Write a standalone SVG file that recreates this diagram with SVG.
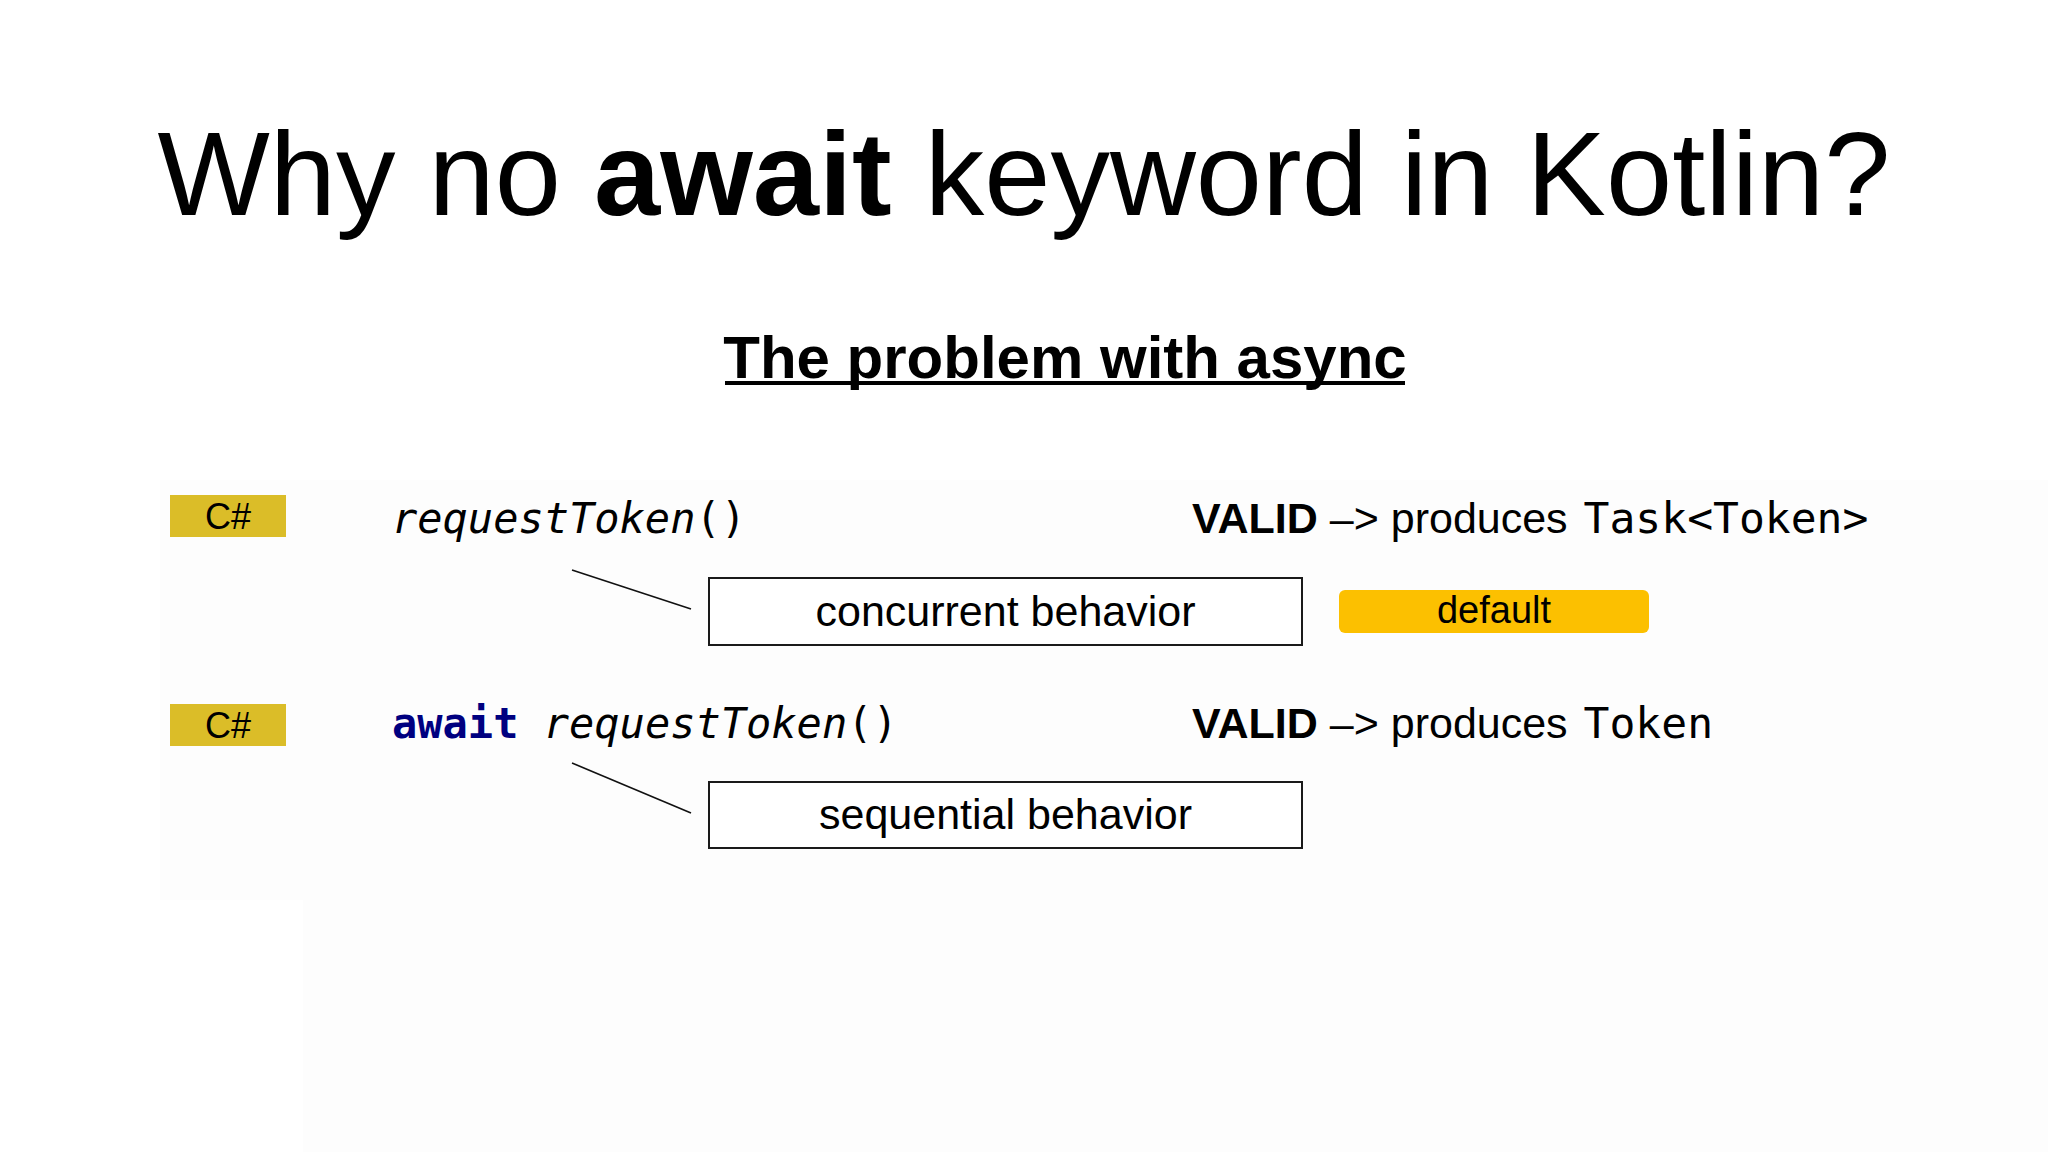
<svg xmlns="http://www.w3.org/2000/svg" width="2048" height="1152" viewBox="0 0 2048 1152">
  <style>
    .sans { font-family: "Liberation Sans", Arial, Helvetica, sans-serif; fill: #000; }
    .mono { font-family: "DejaVu Sans Mono", "Liberation Mono", monospace; fill: #000; }
    .bold { font-weight: bold; }
    .cs { fill: #dbbd28; }
    .box { fill: #ffffff; stroke: #1a1a1a; stroke-width: 2; }
    .conn { stroke: #111; stroke-width: 1.6; fill: none; }
  </style>
  <rect x="0" y="0" width="2048" height="1152" fill="#ffffff"/>
  <rect x="160" y="480" width="1888" height="420" fill="#fdfdfd"/>
  <rect x="303" y="480" width="1745" height="672" fill="#fdfdfd"/>

  <g id="title">
    <text class="sans" x="1024" y="215" font-size="119" text-anchor="middle">Why no <tspan class="bold">await</tspan> keyword in Kotlin?</text>
  </g>

  <g id="subtitle">
    <text class="sans bold" x="1065" y="378" font-size="60" text-anchor="middle">The problem with async</text>
    <rect x="725" y="381" width="680" height="4" fill="#000"/>
  </g>

  <g id="badge-cs-1">
    <rect class="cs" x="170" y="495" width="116" height="42"/>
    <text class="sans" x="228" y="529" font-size="36" text-anchor="middle">C#</text>
  </g>

  <g id="code-1">
    <text class="mono" x="392" y="533" font-size="42"><tspan font-style="italic">requestToken</tspan>()</text>
  </g>

  <g id="valid-1">
    <text class="sans" x="1192" y="533" font-size="43"><tspan class="bold">VALID</tspan> –&gt; produces <tspan class="mono" dx="4">Task&lt;Token&gt;</tspan></text>
  </g>

  <g id="box-concurrent">
    <rect class="box" x="709" y="578" width="593" height="67"/>
    <text class="sans" x="1005.5" y="626" font-size="43" text-anchor="middle">concurrent behavior</text>
  </g>

  <g id="badge-default">
    <rect x="1339" y="590" width="310" height="43" rx="6" fill="#fcc000"/>
    <text class="sans" x="1494" y="623" font-size="38" text-anchor="middle">default</text>
  </g>

  <g id="badge-cs-2">
    <rect class="cs" x="170" y="704" width="116" height="42"/>
    <text class="sans" x="228" y="738" font-size="36" text-anchor="middle">C#</text>
  </g>

  <g id="code-2">
    <text class="mono" x="392" y="738" font-size="42"><tspan font-weight="bold" fill="#000080">await</tspan> <tspan font-style="italic">requestToken</tspan>()</text>
  </g>

  <g id="valid-2">
    <text class="sans" x="1192" y="738" font-size="43"><tspan class="bold">VALID</tspan> –&gt; produces <tspan class="mono" dx="4">Token</tspan></text>
  </g>

  <g id="box-sequential">
    <rect class="box" x="709" y="782" width="593" height="66"/>
    <text class="sans" x="1005.5" y="829" font-size="43" text-anchor="middle">sequential behavior</text>
  </g>

  <g id="connectors">
    <line class="conn" x1="572" y1="570" x2="691" y2="609"/>
    <line class="conn" x1="572" y1="763" x2="691" y2="813"/>
  </g>
</svg>
